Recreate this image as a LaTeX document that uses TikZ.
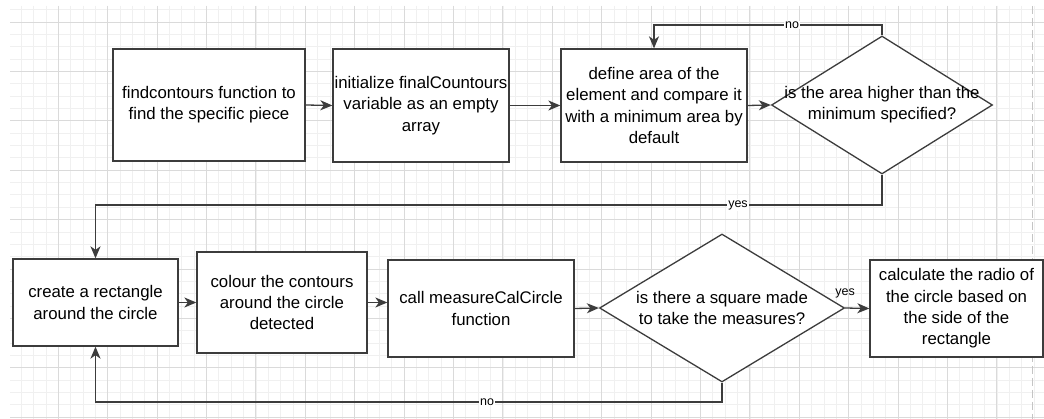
\documentclass[tikz,border=0pt]{standalone}
\usepackage{fontspec}
\setmainfont{Liberation Sans}
\usepackage{tikz}
\usetikzlibrary{arrows.meta,shapes.geometric}
\definecolor{line-gray}{HTML}{3C3C3C}
\definecolor{grid-major}{HTML}{DADADA}
\definecolor{grid-minor}{HTML}{F0F0F0}
\definecolor{page-gray}{HTML}{C4C4C4}
\tikzstyle{process-node}=[rectangle,fill=white,draw=line-gray,line width=1.3pt,inner sep=0pt,align=center,font=\fontsize{16.8}{21.3}\selectfont]
\tikzstyle{decision-node}=[diamond,fill=white,draw=line-gray,line width=1.3pt,inner sep=0pt]
\tikzstyle{text-node}=[align=center,inner sep=0pt,font=\fontsize{16.8}{21.3}\selectfont]
\tikzstyle{label-node}=[fill=white,inner sep=1pt,font=\fontsize{12.5}{14}\selectfont]
\tikzstyle{black-line}=[draw=line-gray,line width=1.3pt]
\tikzstyle{grid-minor-line}=[draw=grid-minor,line width=0.8pt]
\tikzstyle{grid-major-line}=[draw=grid-major,line width=0.9pt]

\begin{document}
\begin{tikzpicture}[x=1pt,y=-1pt]
        \useasboundingbox[fill=white] (0,0) rectangle (1044,419);

        \begin{scope}
            \clip (10,6) rectangle (1044,419);
            \foreach \i in {-4,...,80}
                \draw[grid-minor-line] ({58.3+12.35*\i},6) -- ({58.3+12.35*\i},419);
            \foreach \j in {-1,...,32}
                \draw[grid-minor-line] (10,{22+12.35*\j}) -- (1044,{22+12.35*\j});
            \foreach \i in {-1,...,20}
                \draw[grid-major-line] ({58.3+49.4*\i},6) -- ({58.3+49.4*\i},419);
            \foreach \j in {0,...,8}
                \draw[grid-major-line] (10,{22+49.4*\j}) -- (1044,{22+49.4*\j});
            \draw[page-gray,line width=0.9pt,dash pattern=on 8pt off 4pt] (1032.7,6) -- (1032.7,419);
        \end{scope}

        \begin{scope}
            \node (find)[process-node,minimum width=192pt,minimum height=112pt] at (209,105) {findcontours function to\\find the specific piece};
            \node (init)[process-node,minimum width=176pt,minimum height=113pt] at (421,105.5) {initialize finalCountours\\variable as an empty\\array};
            \node (area)[process-node,minimum width=186pt,minimum height=113pt] at (654,105.5) {define area of the\\element and compare it\\with a minimum area by\\default};
            \node (higher)[decision-node,minimum width=221pt,minimum height=138pt] at (882,105) {};
            \node (higher-text)[text-node] at (higher) {is the area higher than the\\minimum specified?};
            \node (rect)[process-node,minimum width=165pt,minimum height=87pt] at (95.5,302.5) {create a rectangle\\around the circle};
            \node (colour)[process-node,minimum width=170pt,minimum height=101pt] at (282,302.5) {colour the contours\\around the circle\\detected};
            \node (measure)[process-node,minimum width=186pt,minimum height=97pt] at (481,308.5) {call measureCalCircle\\function};
            \node (square)[decision-node,minimum width=245pt,minimum height=148pt] at (722,308) {};
            \node (square-text)[text-node] at (square) {is there a square made\\to take the measures?};
            \node (radio)[process-node,minimum width=173pt,minimum height=97pt] at (956.5,308.5) {calculate the radio of\\the circle based on\\the side of the\\rectangle};
            \coordinate (no-bend-top) at (792,25);
            \coordinate (yes-bend) at (738,205);
            \coordinate (no-bend-bottom) at (487,402);
        \end{scope}

        \begin{scope}[>={Stealth[length=12pt,width=10pt,inset=3.5pt]}, every edge/.style=black-line]
            \path [->] (find.east) edge (init.west);
            \path [->] (init.east) edge (area.west);
            \path [->] (area.east) edge (higher.west);
            \path [->] (rect.east) edge (colour.west);
            \path [->] (colour.east) edge (colour.east -| measure.west);
            \path [->] (measure.east) edge (square.west);
            \path [->] (square.east) edge node (yes-right)[label-node,fill=none,pos=0,yshift=15pt] {yes} (radio.west);
            \draw [->,black-line] (higher.north) |- (no-bend-top) node (no-top)[label-node] {no} -| (area.north);
            \draw [->,black-line] (higher.south) |- (yes-bend) node (yes-mid)[label-node] {yes} -| (rect.north);
            \draw [->,black-line] (square.south) |- (no-bend-bottom) node (no-bottom)[label-node] {no} -| (rect.south);
        \end{scope}

    \end{tikzpicture}
\end{document}
